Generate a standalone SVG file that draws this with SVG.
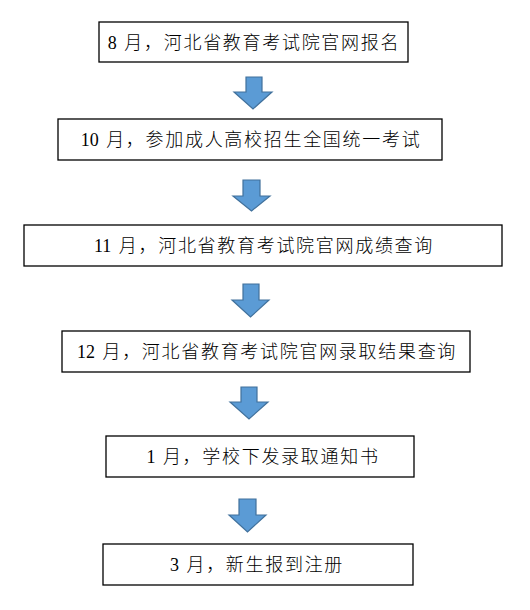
<svg xmlns="http://www.w3.org/2000/svg" width="530" height="610" viewBox="0 0 530 610">
<style>
.box{fill:#fff;stroke:#000;stroke-width:1.3}
.t{font-family:"Liberation Serif","Noto Sans CJK SC",serif;font-size:18px;fill:#000;text-anchor:middle;dominant-baseline:central}
.c{letter-spacing:1.7px;font-weight:300}
.arr{fill:#5B9BD5;stroke:#41719C;stroke-width:1.2;stroke-linejoin:miter}
</style>
<rect width="530" height="610" fill="#fff"/>
<g id="n1"><rect class="box" x="99" y="22" width="309" height="40"/><text class="t" x="254" y="43">8&#160;<tspan class="c" dx="3">月，河北省教育考试院官网报名</tspan></text></g>
<g id="n2"><rect class="box" x="58" y="119" width="384" height="41"/><text class="t" x="251" y="140">10&#160;<tspan class="c" dx="3">月，参加成人高校招生全国统一考试</tspan></text></g>
<g id="n3"><rect class="box" x="24" y="225" width="478" height="41"/><text class="t" x="264" y="246">11&#160;<tspan class="c" dx="3">月，河北省教育考试院官网成绩查询</tspan></text></g>
<g id="n4"><rect class="box" x="62" y="331" width="408" height="41"/><text class="t" x="267" y="352">12&#160;<tspan class="c" dx="3">月，河北省教育考试院官网录取结果查询</tspan></text></g>
<g id="n5"><rect class="box" x="106" y="436" width="308" height="41"/><text class="t" x="263" y="457">1&#160;<tspan class="c" dx="3">月，学校下发录取通知书</tspan></text></g>
<g id="n6"><rect class="box" x="103" y="544" width="310" height="41"/><text class="t" x="257" y="565">3&#160;<tspan class="c" dx="3">月，新生报到注册</tspan></text></g>
<g id="connectors">
<polygon class="arr" points="246,77 262,77 262,92 272,92 253,109 234,92 246,92"/>
<polygon class="arr" points="243,180 260,180 260,196 270,196 251.5,211 233,196 243,196"/>
<polygon class="arr" points="243,284 259,284 259,300 269,300 250.5,317 232,300 243,300"/>
<polygon class="arr" points="241,387 257,387 257,402 268,402 249,419 230,402 241,402"/>
<polygon class="arr" points="239,499 256,499 256,515 266,515 247.5,532 229,515 239,515"/>
</g>
</svg>
